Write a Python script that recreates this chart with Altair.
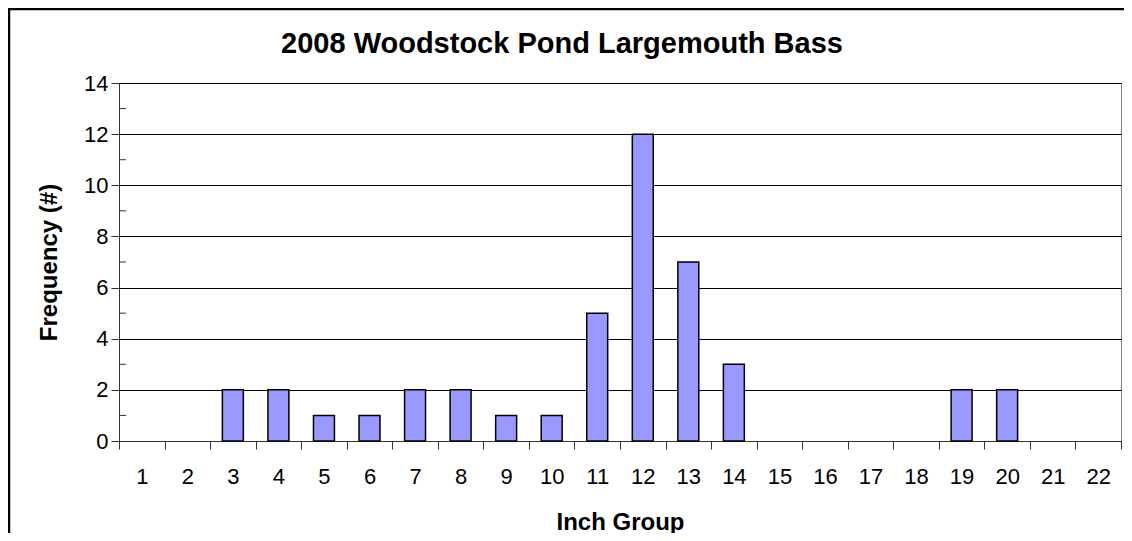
import altair as alt
import pandas as pd

categories = [str(i) for i in range(1, 23)]
frequency = [0, 0, 2, 2, 1, 1, 2, 2, 1, 1, 5, 12, 7, 3, 0, 0, 0, 0, 2, 2, 0, 0]
y_major = [0, 2, 4, 6, 8, 10, 12, 14]
y_minor = [1, 3, 5, 7, 9, 11, 13]

title_text = "2008 Woodstock Pond Largemouth Bass"
x_title = "Inch Group"
y_title = "Frequency (#)"

FONT = "Liberation Sans"
W, H = 1002, 358

df = pd.DataFrame({"cat": categories, "freq": frequency})
df_bars = df[df["freq"] > 0]

xscale = alt.Scale(domain=categories, paddingInner=0, paddingOuter=0)
yscale = alt.Scale(domain=[0, 14], nice=False)

bars = alt.Chart(df_bars).mark_bar(
    fill="#9999FF", stroke="black", strokeWidth=1.5,
    width=alt.RelativeBandSize(0.46)
).encode(
    x=alt.X("cat:O", scale=xscale, sort=categories,
            axis=alt.Axis(title=x_title, labelAngle=0, tickBand="extent",
                          tickSize=8, tickColor="#333333", domainColor="#333333",
                          labelFontSize=22, labelFont=FONT, labelColor="black",
                          labelPadding=17, labelBaseline="top",
                          titleFontSize=24, titleFont=FONT, titleFontWeight="bold",
                          titleColor="black", titleBaseline="alphabetic", titleY=88,
                          grid=False)),
    y=alt.Y("freq:Q", scale=yscale,
            axis=alt.Axis(title=y_title, values=y_major, tickSize=8,
                          tickColor="#333333", domainColor="#333333",
                          labelFontSize=22, labelFont=FONT, labelColor="black",
                          labelPadding=3,
                          titleFontSize=24, titleFont=FONT, titleFontWeight="bold",
                          titleColor="black", titleAngle=270, titleBaseline="alphabetic",
                          titleAlign="center", titleX=-63, titleY=H / 2,
                          grid=True, gridColor="black", gridWidth=1)),
)

minor = alt.Chart(pd.DataFrame({"v": y_minor})).mark_rule(
    color="#333333", strokeWidth=1
).encode(
    y=alt.Y("v:Q", scale=yscale),
    x=alt.value(0), x2=alt.value(7),
)

border = alt.Chart(pd.DataFrame({"a": [0]})).mark_rect(
    fillOpacity=0, stroke="black", strokeWidth=2.5
).encode(
    x=alt.value(-110), x2=alt.value(W + 40),
    y=alt.value(-74), y2=alt.value(H + 140),
)

chart = alt.layer(border, bars, minor).properties(
    width=W, height=H,
    title=alt.Title(title_text, fontSize=29, font=FONT, fontWeight="bold",
                    color="black", anchor="middle", dx=-58, dy=94,
                    baseline="alphabetic", offset=20),
    autosize=alt.AutoSizeParams(type="none"),
    padding={"left": 111, "top": 75, "right": 3, "bottom": 92},
).configure_view(
    stroke="#808080", strokeWidth=1
)

chart.save("out.html", embed_options={"renderer": "svg", "actions": False})
